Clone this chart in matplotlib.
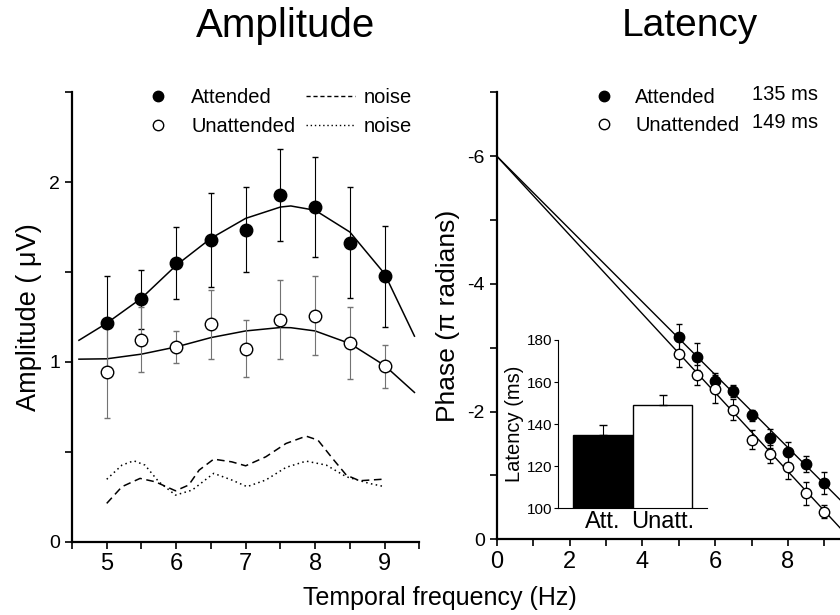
import numpy as np
import matplotlib.pyplot as plt
from matplotlib.ticker import MultipleLocator
from matplotlib.lines import Line2D

plt.rcParams['font.family'] = ['Liberation Sans', 'DejaVu Sans']
plt.rcParams['axes.unicode_minus'] = False

# ---- amplitude data
freq = [5, 5.5, 6, 6.5, 7, 7.5, 8, 8.5, 9]
amp_att = [1.217, 1.347, 1.55, 1.678, 1.735, 1.926, 1.861, 1.663, 1.476]
amp_att_err = [0.26, 0.166, 0.2, 0.26, 0.235, 0.255, 0.28, 0.31, 0.28]
amp_unatt = [0.941, 1.124, 1.083, 1.208, 1.074, 1.235, 1.256, 1.104, 0.976]
amp_unatt_err = [0.254, 0.18, 0.09, 0.19, 0.16, 0.22, 0.22, 0.2, 0.12]

# fitted curves
fit_freq = [4.6, 5.0, 5.5, 6.0, 6.5, 7.0, 7.5, 7.65, 8.0, 8.5, 9.0, 9.43]
fit_att = [1.12, 1.215, 1.354, 1.537, 1.687, 1.798, 1.861, 1.867, 1.843, 1.722, 1.49, 1.143]
fit_unatt = [1.015, 1.017, 1.043, 1.083, 1.135, 1.172, 1.191, 1.19, 1.172, 1.102, 0.98, 0.83]

# noise levels
noise_att_f = [5.0, 5.22, 5.48, 5.7, 5.99, 6.18, 6.33, 6.54, 6.8, 7.0, 7.29, 7.58, 7.87, 8.04, 8.25, 8.45, 8.64, 9.0]
noise_att = [0.213, 0.306, 0.352, 0.333, 0.283, 0.315, 0.398, 0.459, 0.444, 0.422, 0.472, 0.546, 0.587, 0.565, 0.463, 0.37, 0.339, 0.348]
noise_unatt_f = [5.0, 5.22, 5.39, 5.55, 5.75, 5.99, 6.23, 6.54, 6.8, 7.02, 7.29, 7.58, 7.87, 8.16, 8.45, 8.78, 9.0]
noise_unatt = [0.347, 0.426, 0.45, 0.426, 0.333, 0.259, 0.287, 0.38, 0.343, 0.306, 0.343, 0.413, 0.448, 0.426, 0.361, 0.324, 0.306]

# ---- phase data
phase_att = [-3.17, -2.86, -2.48, -2.32, -1.94, -1.58, -1.36, -1.18, -0.88]
phase_att_err = [0.2, 0.21, 0.13, 0.1, 0.09, 0.15, 0.17, 0.13, 0.17]
phase_unatt = [-2.90, -2.57, -2.35, -2.03, -1.56, -1.33, -1.13, -0.72, -0.43]
phase_unatt_err = [0.2, 0.16, 0.22, 0.16, 0.15, 0.14, 0.18, 0.18, 0.1]
line_freq = [0, 9.43]
line_att = [-6, -0.62]
line_unatt = [-6, -0.18]

# ---- latency inset
lat_labels = ['Att.', 'Unatt.']
lat_vals = [135, 149]
lat_err = [4.5, 5]

fig = plt.figure(figsize=(8.4, 6.15), dpi=100)

def style(ax):
    for s in ['top', 'right']:
        ax.spines[s].set_visible(False)
    for s in ['left', 'bottom']:
        ax.spines[s].set_linewidth(1.6)
    ax.tick_params(which='both', direction='out', width=1.2, length=5)
    ax.tick_params(axis='x', labelsize=17)
    ax.tick_params(axis='y', labelsize=14)

# ---------------- Amplitude
ax1 = fig.add_axes([0.0857, 0.1192, 0.4135, 0.731])
style(ax1)
ax1.plot(fit_freq, fit_att, color='k', lw=1.1)
ax1.plot(fit_freq, fit_unatt, color='k', lw=1.1)
ax1.errorbar(freq, amp_att, yerr=amp_att_err, fmt='none', ecolor='k', elinewidth=0.8, capsize=2)
ax1.errorbar(freq, amp_unatt, yerr=amp_unatt_err, fmt='none', ecolor='0.45', elinewidth=0.8, capsize=2)
ax1.plot(freq, amp_att, 'o', color='k', ms=9, zorder=5)
ax1.plot(freq, amp_unatt, 'o', mfc='white', mec='k', mew=1.0, ms=9, zorder=5)
ax1.plot(noise_att_f, noise_att, color='k', lw=1.1, ls=(0, (5, 3)))
ax1.plot(noise_unatt_f, noise_unatt, color='k', lw=1.1, ls=(0, (1, 2.2)))
ax1.set_xlim(4.5, 9.5)
ax1.set_ylim(0, 2.5)
ax1.xaxis.set_major_locator(MultipleLocator(1))
ax1.xaxis.set_minor_locator(MultipleLocator(0.5))
ax1.yaxis.set_major_locator(MultipleLocator(1))
ax1.yaxis.set_minor_locator(MultipleLocator(0.5))
ax1.set_ylabel('Amplitude ( μV)', fontsize=19.5, labelpad=5)

h = [Line2D([], [], ls='none', marker='o', color='k', ms=7.5),
     Line2D([], [], ls='none', marker='o', mfc='white', mec='k', ms=7.5),
     Line2D([], [], color='k', lw=1.0, ls=(0, (3, 2))),
     Line2D([], [], color='k', lw=1.0, ls=(0, (1, 2)))]
ax1.legend(h, ['Attended', 'Unattended', 'noise', 'noise'], ncol=2, frameon=False,
           loc='upper left', bbox_to_anchor=(0.1756, 1.009), borderaxespad=0, borderpad=0,
           fontsize=14.5, handlelength=2.45, handletextpad=0.45, columnspacing=0.5,
           labelspacing=0.48)

# ---------------- Latency / phase
ax2 = fig.add_axes([0.5913, 0.1231, 0.4087, 0.727])
style(ax2)
ax2.plot(line_freq, line_att, color='k', lw=1.0)
ax2.plot(line_freq, line_unatt, color='k', lw=1.0)
ax2.errorbar(freq, phase_att, yerr=phase_att_err, fmt='none', ecolor='k', elinewidth=0.8, capsize=2)
ax2.errorbar(freq, phase_unatt, yerr=phase_unatt_err, fmt='none', ecolor='k', elinewidth=0.8, capsize=2)
ax2.plot(freq, phase_att, 'o', color='k', ms=7.5, zorder=5)
ax2.plot(freq, phase_unatt, 'o', mfc='white', mec='k', mew=1.0, ms=7.5, zorder=5)
ax2.set_xlim(0, 9.43)
ax2.set_ylim(0, -7)
ax2.xaxis.set_major_locator(MultipleLocator(2))
ax2.xaxis.set_minor_locator(MultipleLocator(1))
ax2.yaxis.set_major_locator(MultipleLocator(2))
ax2.yaxis.set_minor_locator(MultipleLocator(1))
ax2.set_ylabel('Phase (π radians)', fontsize=19, labelpad=5)

h2 = [Line2D([], [], ls='none', marker='o', color='k', ms=7.5),
      Line2D([], [], ls='none', marker='o', mfc='white', mec='k', ms=7.5)]
ax2.legend(h2, ['Attended', 'Unattended'], frameon=False,
           loc='upper left', bbox_to_anchor=(0.2476, 1.010), borderaxespad=0, borderpad=0,
           fontsize=14.5, handlelength=2.2, handletextpad=0.45, labelspacing=0.48)
fig.text(818 / 840, 1 - 94 / 615, '135 ms', fontsize=14.5, ha='right', va='center')
fig.text(818 / 840, 1 - 122.7 / 615, '149 ms', fontsize=14.5, ha='right', va='center')

# ---------------- inset bar chart
ax3 = fig.add_axes([0.664, 0.1735, 0.178, 0.2737])
ax3.patch.set_visible(False)
for s in ['top', 'right']:
    ax3.spines[s].set_visible(False)
ax3.bar([0, 1], lat_vals, width=1.0, color=['k', 'white'], edgecolor='k', lw=1.0)
ax3.errorbar([0, 1], lat_vals, yerr=[[0, 0], lat_err], fmt='none', ecolor='k', elinewidth=0.8, capsize=3)
ax3.set_ylim(100, 180)
ax3.set_xlim(-0.762, 1.752)
ax3.set_yticks([100, 120, 140, 160, 180])
ax3.set_xticks([0, 1])
ax3.set_xticklabels(lat_labels, fontsize=17)
ax3.tick_params(axis='x', length=0, pad=2)
ax3.tick_params(axis='y', labelsize=11, length=3, pad=1)
ax3.set_ylabel('Latency (ms)', fontsize=14.5, labelpad=2)

# ---------------- titles
fig.text(286 / 840, 1 - 26 / 615, 'Amplitude', fontsize=29, ha='center', va='center')
fig.text(690 / 840, 1 - 26 / 615, 'Latency', fontsize=28, ha='center', va='center')
fig.text(440 / 840, 0.016, 'Temporal frequency (Hz)', fontsize=18, ha='center', va='baseline')

fig.savefig('out.png', dpi=100)
